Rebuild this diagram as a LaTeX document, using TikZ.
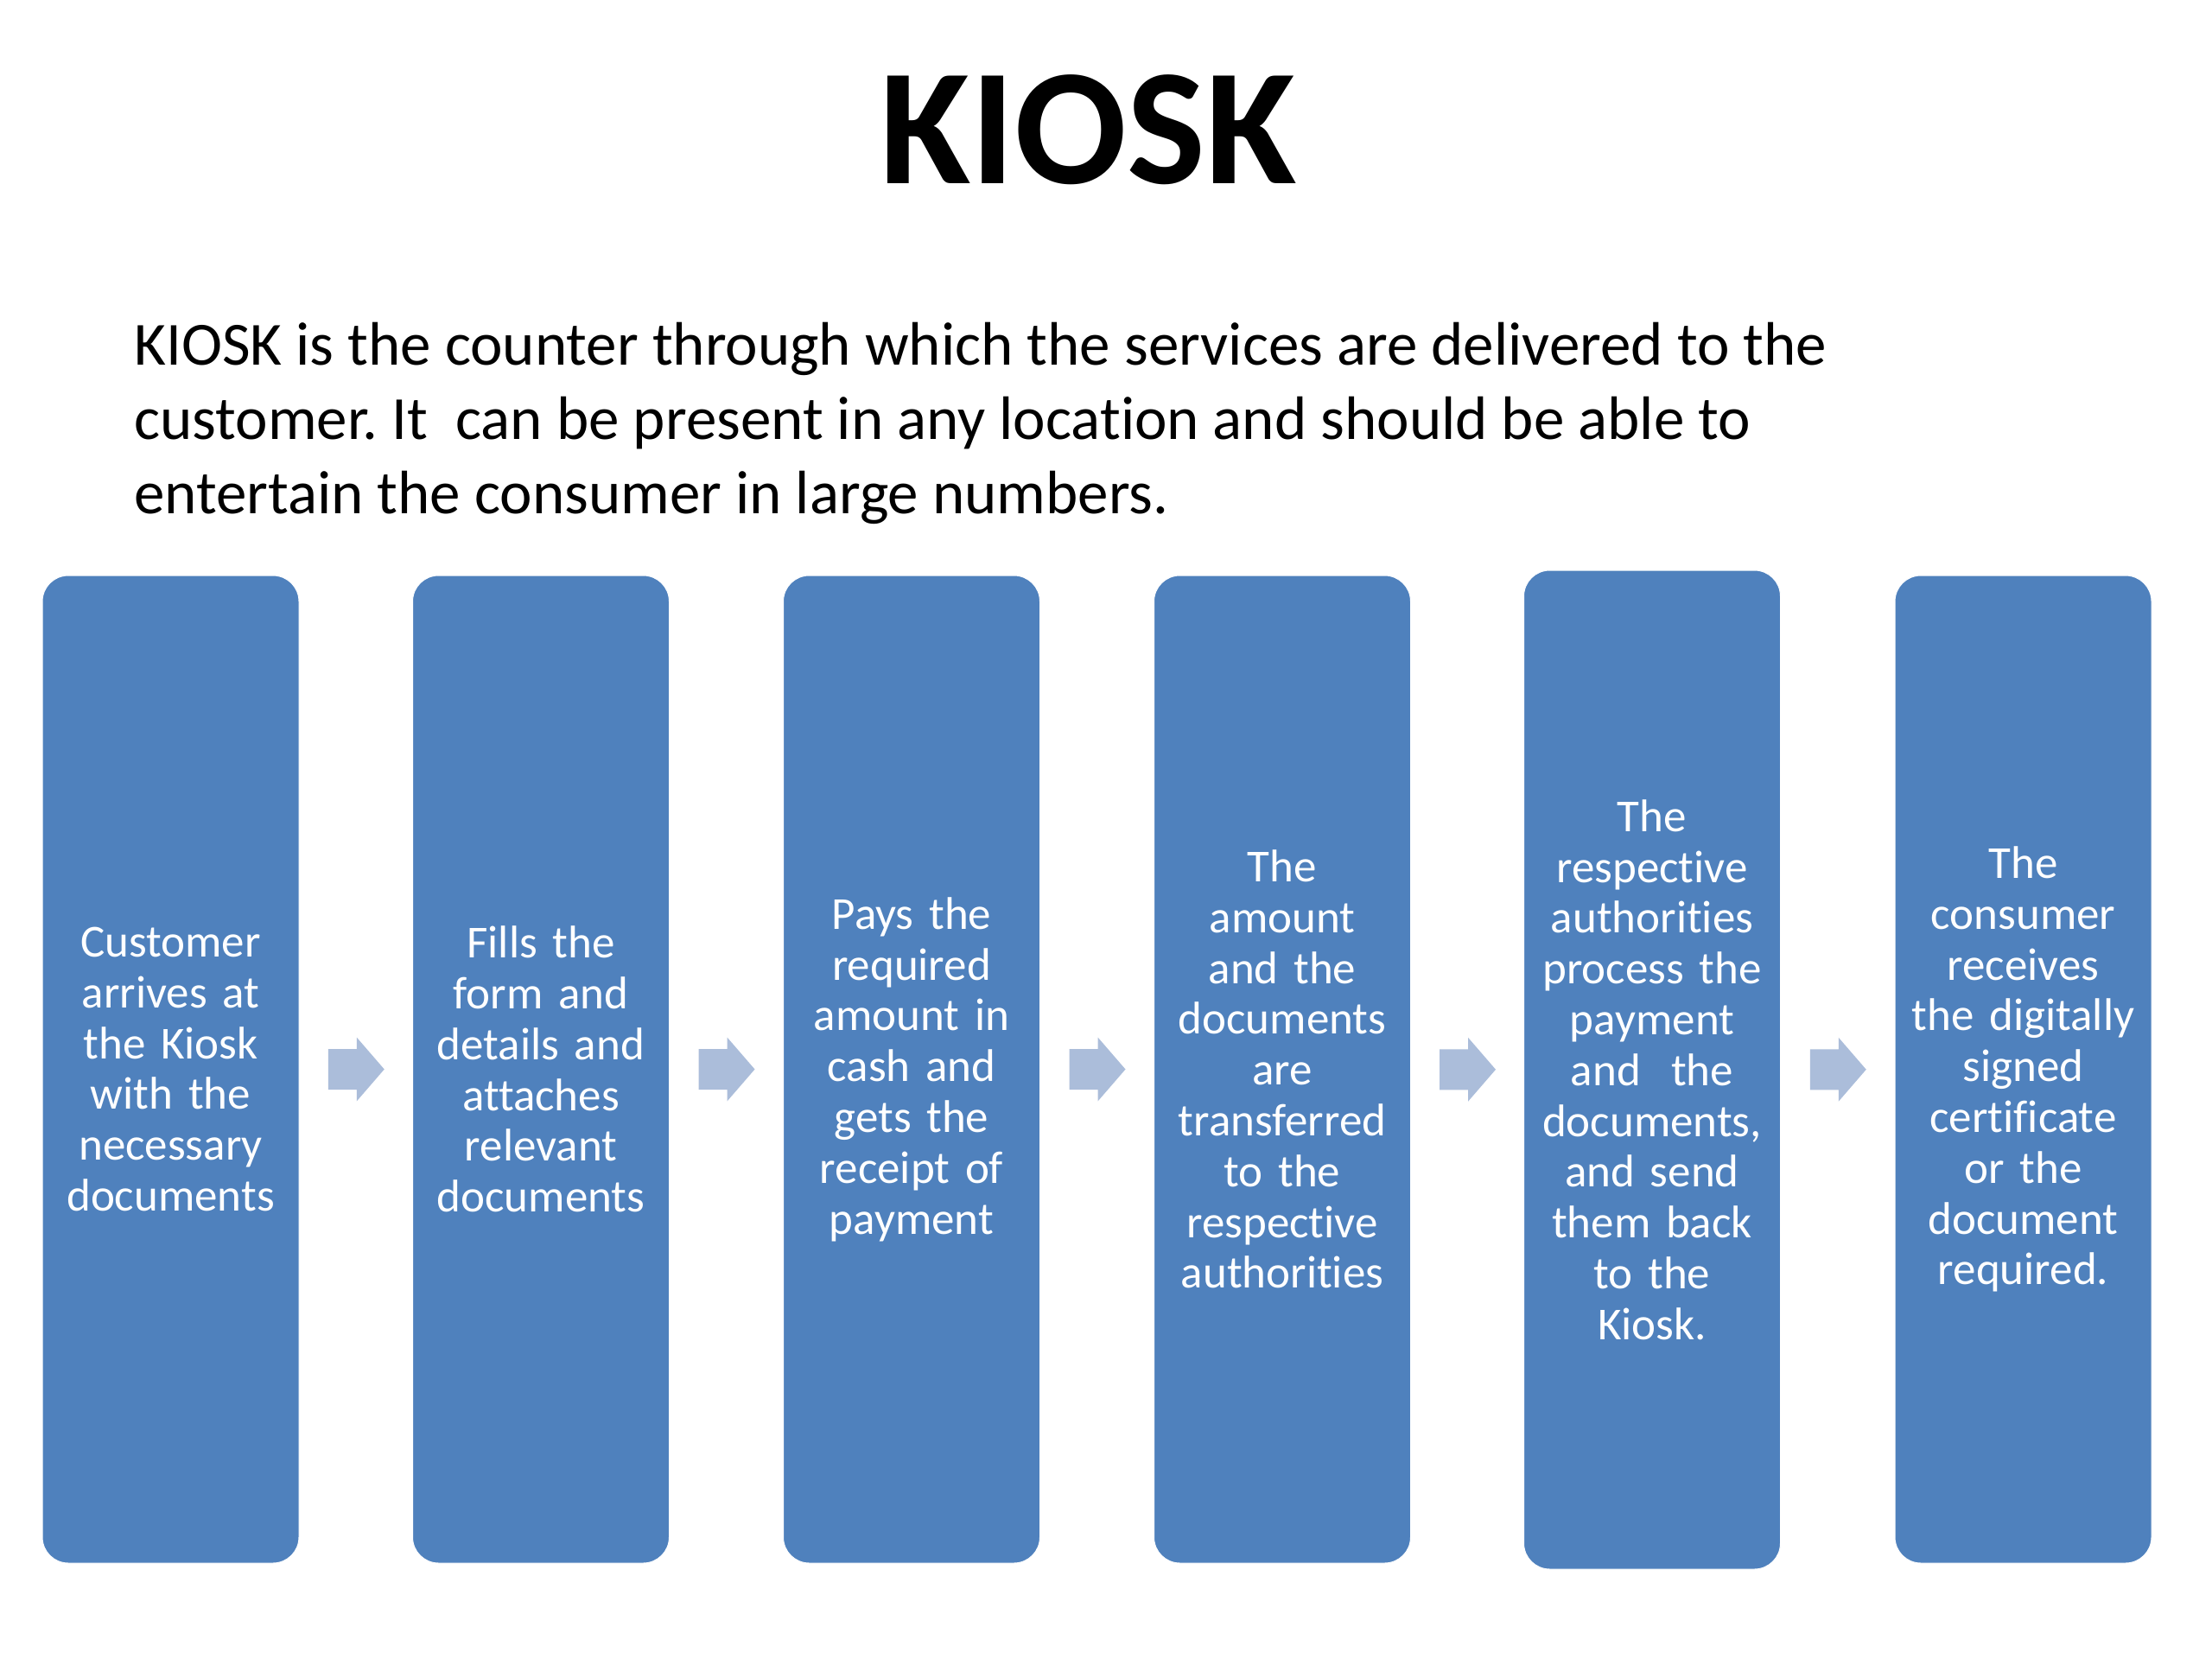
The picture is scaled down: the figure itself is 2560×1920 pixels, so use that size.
\documentclass[tikz,border=0pt]{standalone}
\usepackage{fontspec}
\setmainfont{Carlito}[Ligatures=NoCommon]
\usetikzlibrary{calc}
\definecolor{boxblue}{HTML}{4F81BD}
\definecolor{arrowblue}{HTML}{ABBDDA}
\frenchspacing
\begin{document}
\begin{tikzpicture}[x=1pt,y=-1pt,
  kbox/.style={fill=boxblue, draw=white, line width=1pt, rounded corners=30pt,
    minimum width=297pt, minimum height=1143pt, inner sep=0pt, text width=290pt,
    align=center, text=white, font=\fontsize{53}{58.8}\selectfont},
  karrow/.style={fill=arrowblue, draw=none}]
\useasboundingbox (0,0) rectangle (2560,1920);
\fill[white] (0,0) rectangle (2560,1920);

\node[font=\fontsize{192}{230}\bfseries\selectfont, anchor=base, inner sep=0pt] (title) at (1259,212) {KIOSK};

\node[anchor=base west, inner sep=0pt, align=left, font=\fontsize{71}{86}\selectfont] (desc) at (155,594)
  {KIOSK is the counter through which the services are delivered to the\\
   customer. It~\ can be present in any location and should be able to\\
   entertain the consumer in large numbers.};

\node[kbox] (b1) at (197.5,1237.5) {Customer\\ arrives at\\ the Kiosk\\ with the\\ necessary\\ documents};
\node[kbox] (b2) at (626,1237.5) {Fills the\\ form and\\ details and\\ attaches\\ relevant\\ documents};
\node[kbox] (b3) at (1055,1237.5) {Pays the\\ required\\ amount in\\ cash and\\ gets the\\ receipt of\\ payment};
\node[kbox] (b4) at (1484,1237.5) {The\\ amount\\ and the\\ documents\\ are\\ transferred\\ to the\\ respective\\ authorities};
\node[kbox, minimum height=1156pt] (b5) at (1912,1238) {The\\ respective\\ authorities\\ process the\\ payment\\ and~\ the\\ documents,\\ and send\\ them back\\ to the\\ Kiosk.};
\node[kbox] (b6) at (2341.5,1237.5) {The\\ consumer\\ receives\\ the digitally\\ signed\\ certificate\\ or the\\ document\\ required.};

\foreach \i/\j in {1/2,2/3,3/4,4/5,5/6}{
  \coordinate (m\i) at ($(b\i.east)!0.5!(b\j.west)$);
  \fill[karrow] ($(m\i)+(-32,-23.5)$) -- ++(33,0) -- ++(0,-13.5) -- ++(32,37)
     -- ++(-32,37) -- ++(0,-13.5) -- ++(-33,0) -- cycle;
}
\end{tikzpicture}
\end{document}
